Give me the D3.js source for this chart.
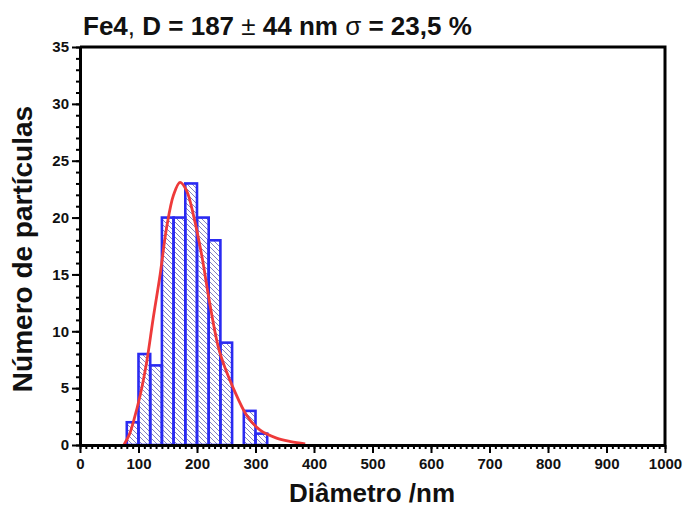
<!DOCTYPE html>
<html>
<head>
<meta charset="utf-8">
<script src="https://cdnjs.cloudflare.com/ajax/libs/d3/7.8.5/d3.min.js"></script>
<style>
  body { margin: 0; background: #fff; }
  svg { display: block; font-family: "Liberation Sans", Arial, sans-serif; }
  .tick text { font-weight: bold; font-size: 15px; fill: #111; }
</style>
</head>
<body>
<div id="chart"></div>
<script>
// histogram bins (nm) and counts
var binStarts = [80, 100, 120, 140, 160, 180, 200, 220, 240, 260, 280, 300];
var binWidth = 20;
var counts = [2, 8, 7, 20, 20, 23, 20, 18, 9, 0, 3, 1];

// fitted curve
var fitX = [75, 85, 91, 103, 114, 125, 137, 148, 160, 171, 182, 194, 208, 222, 237, 250, 262, 285, 308, 336, 360, 385];
var fitY = [0, 1.0, 2.0, 4.4, 7.3, 11.1, 15.0, 19.1, 22.0, 23.1, 22.4, 20.2, 16.7, 12.4, 8.5, 6.5, 5.0, 2.6, 1.3, 0.6, 0.3, 0.1];

var xTicks = [0, 100, 200, 300, 400, 500, 600, 700, 800, 900, 1000];
var yTicks = [0, 5, 10, 15, 20, 25, 30, 35];

var W = 685, H = 508;
var margin = {top: 47, right: 20, bottom: 63, left: 80},
    width = W - margin.left - margin.right,
    height = H - margin.top - margin.bottom;

var svg = d3.select("#chart")
  .append("svg")
    .attr("width", W)
    .attr("height", H);

// hatch pattern for the bars
var defs = svg.append("defs");
defs.append("pattern")
    .attr("id", "hatch")
    .attr("patternUnits", "userSpaceOnUse")
    .attr("width", 5)
    .attr("height", 5)
  .append("path")
    .attr("d", "M-1,-1 L6,6 M-1,4 L1,6 M4,-1 L6,1")
    .attr("stroke", "#8080c4")
    .attr("stroke-width", 1);

var g = svg.append("g")
    .attr("transform", "translate(" + margin.left + "," + margin.top + ")");

var x = d3.scaleLinear().domain([0, 1000]).range([0, width]);
var y = d3.scaleLinear().domain([0, 35]).range([height, 0]);

var bins = binStarts.map(function(b, i) { return {x0: b, n: counts[i]}; })
  .filter(function(d) { return d.n > 0; });

// bars
g.selectAll("rect.bar")
  .data(bins)
  .enter()
  .append("rect")
    .attr("class", "bar")
    .attr("x", function(d) { return x(d.x0); })
    .attr("y", function(d) { return y(d.n); })
    .attr("width", x(binWidth) - x(0))
    .attr("height", function(d) { return y(0) - y(d.n); })
    .style("fill", "url(#hatch)")
    .style("stroke", "#2a2af2")
    .style("stroke-width", 2.6);

// fit curve
var line = d3.line()
  .x(function(d, i) { return x(fitX[i]); })
  .y(function(d) { return y(d); })
  .curve(d3.curveCatmullRom);

g.append("path")
  .datum(fitY)
  .attr("d", line)
  .style("fill", "none")
  .style("stroke", "#ee3a3a")
  .style("stroke-width", 2.8);

// minor ticks
g.append("g")
  .attr("transform", "translate(0," + height + ")")
  .call(d3.axisBottom(x).tickValues(d3.range(0, 1001, 10)).tickSize(4).tickFormat(""))
  .call(function(a) { a.select(".domain").remove(); a.selectAll("line").attr("stroke-width", 2); });

g.append("g")
  .call(d3.axisLeft(y).tickValues(d3.range(0, 36, 1)).tickSize(4).tickFormat(""))
  .call(function(a) { a.select(".domain").remove(); a.selectAll("line").attr("stroke-width", 2); });

// major axes
var xAxis = g.append("g")
  .attr("transform", "translate(0," + height + ")")
  .call(d3.axisBottom(x).tickValues(xTicks).tickSize(8).tickSizeOuter(0).tickPadding(5).tickFormat(d3.format("d")));
xAxis.select(".domain").attr("stroke-width", 3);
xAxis.selectAll(".tick line").attr("stroke-width", 2);

var yAxis = g.append("g")
  .call(d3.axisLeft(y).tickValues(yTicks).tickSize(8).tickSizeOuter(0).tickPadding(3));
yAxis.select(".domain").attr("stroke-width", 3);
yAxis.selectAll(".tick line").attr("stroke-width", 2);

// frame top and right
g.append("path")
  .attr("d", "M0,0 H" + width + " V" + height)
  .style("fill", "none")
  .style("stroke", "#000")
  .style("stroke-width", 3);

// title
var title = svg.append("text")
  .attr("x", 83)
  .attr("y", 35)
  .style("font-size", "26px")
  .style("fill", "#111");
title.append("tspan").style("font-weight", "bold").text("Fe4");
title.append("tspan").text(", ");
title.append("tspan").style("font-weight", "bold").text("D = 187 ");
title.append("tspan").text("\u00b1");
title.append("tspan").style("font-weight", "bold").text(" 44 nm ");
title.append("tspan").text("\u03c3");
title.append("tspan").style("font-weight", "bold").text(" = 23,5 %");

// axis titles
svg.append("text")
  .attr("x", 372)
  .attr("y", 502)
  .attr("text-anchor", "middle")
  .style("font-size", "26px")
  .style("font-weight", "bold")
  .style("fill", "#111")
  .text("Diâmetro /nm");

svg.append("text")
  .attr("transform", "translate(32,249) rotate(-90)")
  .attr("text-anchor", "middle")
  .style("font-size", "28px")
  .style("font-weight", "bold")
  .style("fill", "#111")
  .text("Número de partículas");
</script>
</body>
</html>
